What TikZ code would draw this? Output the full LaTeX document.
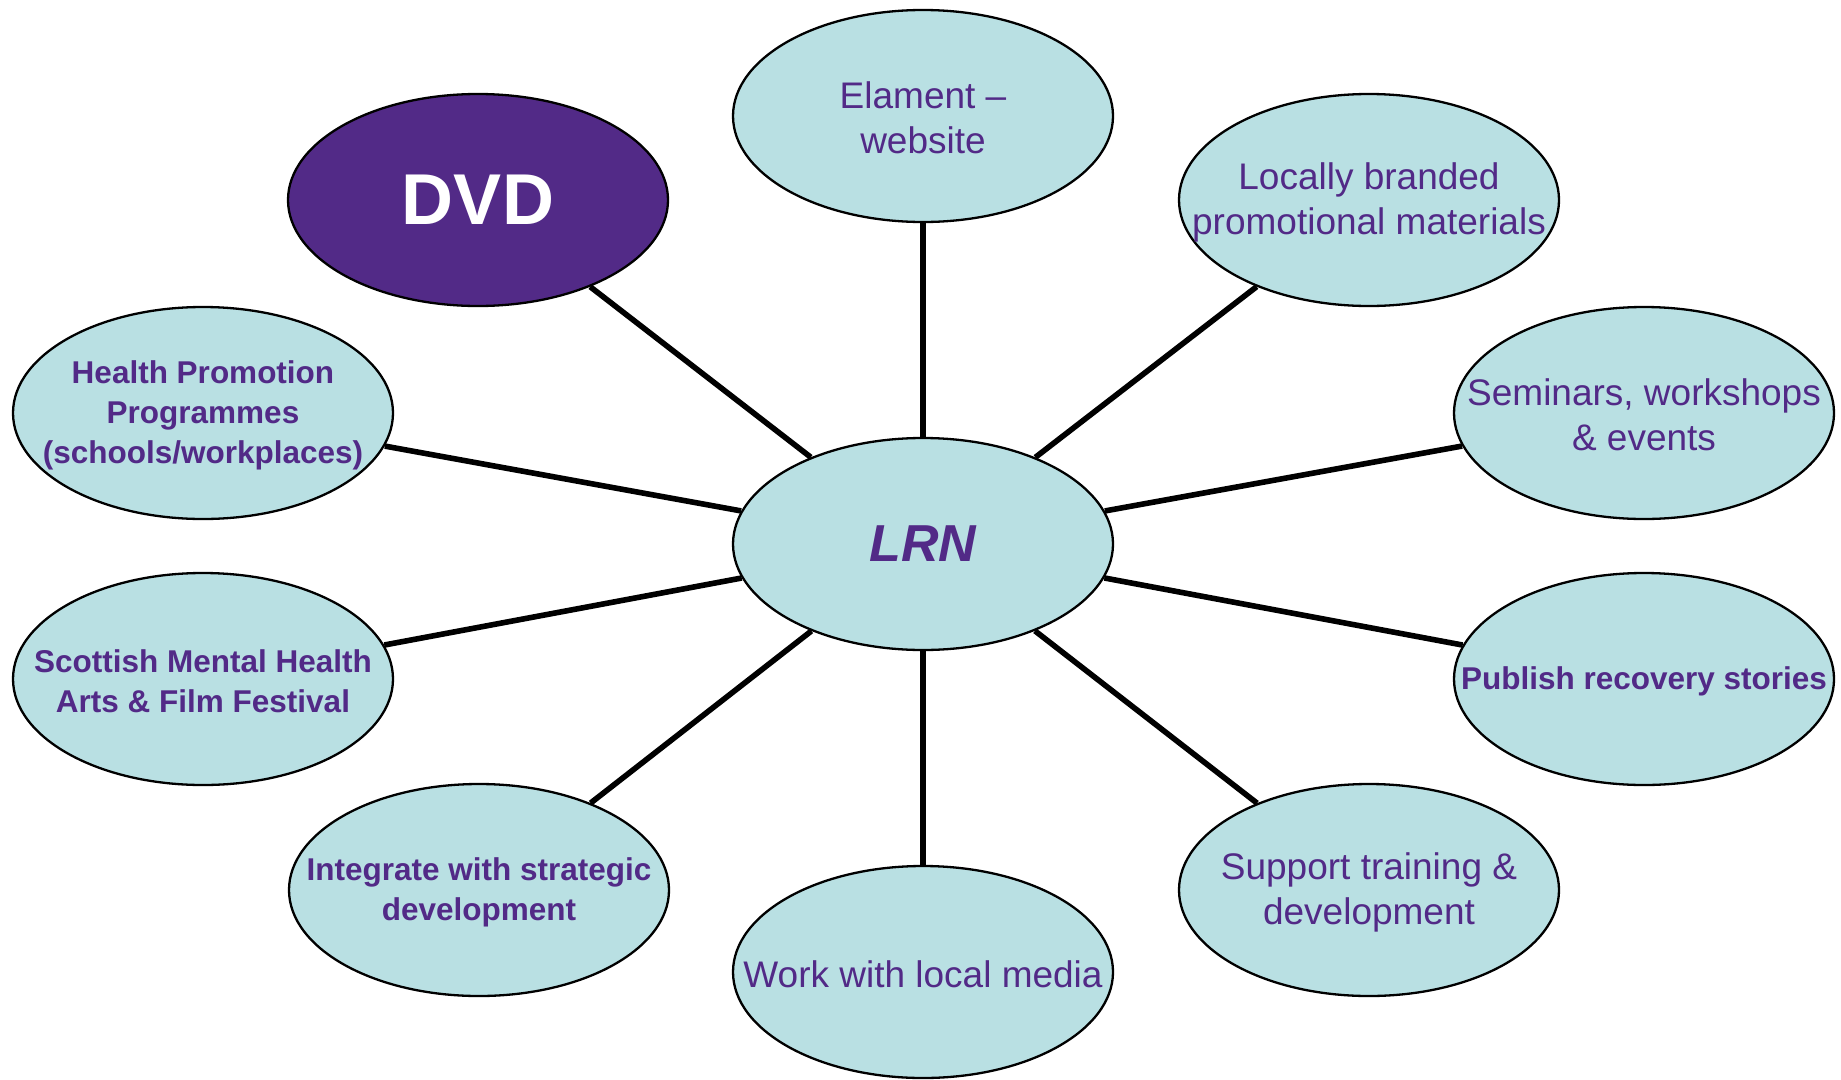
\documentclass[tikz,border=0pt]{standalone}
\usepackage{fontspec}
\setmainfont{Liberation Sans}
\usepackage{xcolor}
\usetikzlibrary{shapes,arrows}
\definecolor{lrnpurple}{RGB}{82,42,135}
\definecolor{lrnteal}{RGB}{185,224,227}
\tikzset{
    bubble/.style={ellipse,draw=black,line width=2.3pt,fill=lrnteal,
        minimum width=380pt,minimum height=212pt,inner sep=0pt},
    plaintxt/.style={text=lrnpurple,align=center,yshift=-2pt,
        font=\fontsize{37}{45}\selectfont},
    boldtxt/.style={text=lrnpurple,align=center,yshift=-2pt,
        font=\fontsize{31.5}{40}\selectfont\bfseries},
    spoke/.style={line width=5.6pt,black}
}

\begin{document}
\begin{tikzpicture}[x=1pt,y=-1pt]
    \useasboundingbox (0,0) rectangle (1841,1079);
    % spokes go first, bubbles cover them
    \coordinate (c) at (923,544);
    \node[bubble,fill=lrnpurple,
        label={[text=white,font=\fontsize{72}{80}\selectfont\bfseries]center:DVD}] (dvd) at (478,200) {};
    \node[bubble,label={[plaintxt]center:Elament --\\website}] (web) at (923,116) {};
    \node[bubble,label={[plaintxt]center:Locally branded\\promotional materials}] (promo) at (1369,200) {};
    \node[bubble,label={[boldtxt]center:Health Promotion\\Programmes\\(schools/workplaces)}] (health) at (203,413) {};
    \node[bubble,label={[plaintxt]center:Seminars, workshops\\\& events}] (events) at (1644,413) {};
    \node[bubble,label={[boldtxt]center:Scottish Mental Health\\Arts \& Film Festival}] (festival) at (203,679) {};
    \node[bubble,label={[boldtxt]center:Publish recovery stories}] (stories) at (1644,679) {};
    \node[bubble,label={[boldtxt]center:Integrate with strategic\\development}] (strategy) at (479,890) {};
    \node[bubble,label={[plaintxt]center:Support training \&\\development}] (training) at (1369,890) {};
    \node[bubble,label={[plaintxt]center:Work with local media}] (media) at (923,972) {};
    \node[bubble,label={[text=lrnpurple,font=\fontsize{52}{60}\selectfont\bfseries\itshape]center:LRN}] (lrn) at (c) {};
    \foreach \n in {dvd,web,promo,health,events,festival,stories,strategy,training,media}
        \draw[spoke] (lrn) -- (\n);
\end{tikzpicture}
\end{document}
